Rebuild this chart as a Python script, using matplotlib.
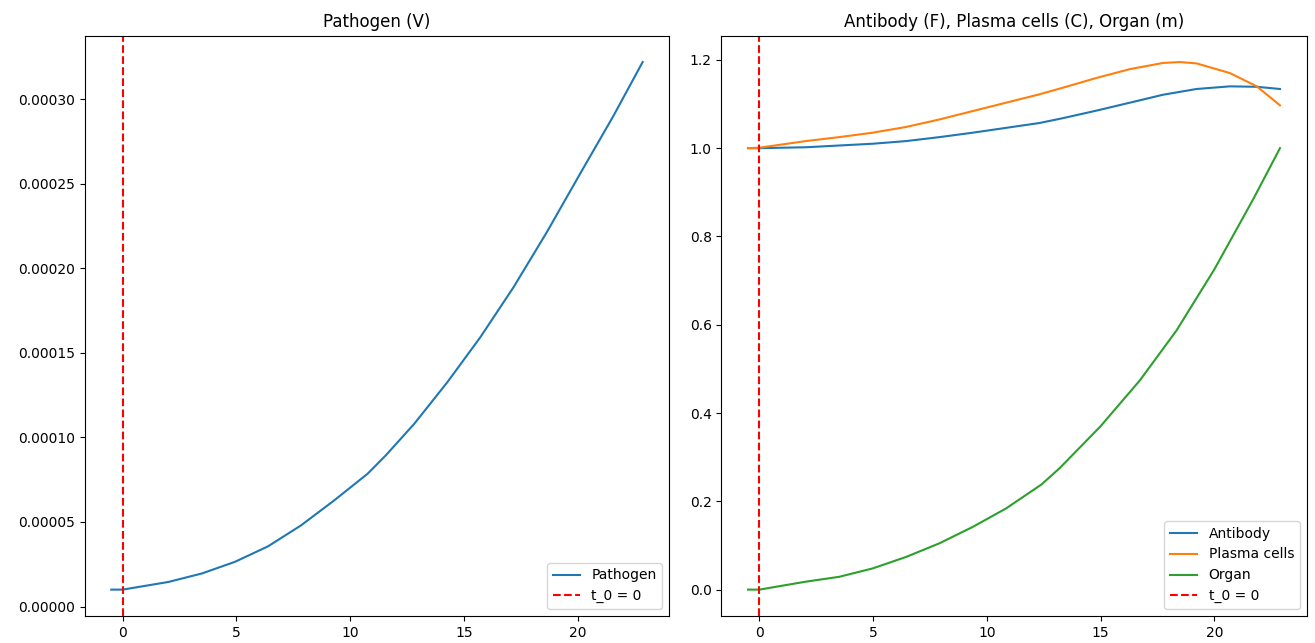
import matplotlib
matplotlib.use("Agg")
import matplotlib.pyplot as plt

# pathogen load V(t)
t_V = [-0.5, 0.0, 2.0, 3.47, 4.93, 6.39, 7.84, 9.3, 10.77, 11.57, 12.81,
       14.27, 15.72, 17.18, 18.64, 20.1, 21.56, 22.85]
V = [1.0e-5, 1.0e-5, 1.45e-5, 1.95e-5, 2.64e-5, 3.56e-5, 4.8e-5, 6.28e-5,
     7.86e-5, 8.95e-5, 10.8e-5, 13.27e-5, 15.93e-5, 18.89e-5,
     22.14e-5, 25.59e-5, 29.0e-5, 32.2e-5]

# antibody F(t)
t_F = [-0.5, 0.0, 2.04, 3.51, 4.98, 6.45, 7.92, 9.38, 10.85, 12.32, 13.35,
       14.82, 16.29, 17.75, 19.22, 20.69, 21.87, 22.89]
F = [1.0, 1.0, 1.002, 1.006, 1.010, 1.016, 1.025, 1.035, 1.046, 1.057, 1.068,
     1.085, 1.103, 1.121, 1.134, 1.140, 1.139, 1.134]

# plasma cells C(t)
t_C = [-0.5, 0.0, 2.04, 3.51, 4.98, 6.45, 7.92, 9.38, 10.85, 12.32, 13.35,
       14.82, 16.29, 17.75, 18.49, 19.22, 20.69, 21.87, 22.89]
C = [1.0, 1.001, 1.016, 1.025, 1.035, 1.048, 1.065, 1.084, 1.103, 1.122, 1.137,
     1.159, 1.179, 1.193, 1.195, 1.192, 1.170, 1.140, 1.097]

# organ damage m(t)
t_m = [-0.5, 0.0, 2.04, 3.51, 4.98, 6.45, 7.92, 9.38, 10.85, 12.4, 13.2, 15.0,
       16.73, 18.34, 20.0, 21.72, 22.89]
m = [0.0, 0.0, 0.018, 0.029, 0.048, 0.074, 0.105, 0.142, 0.184, 0.238, 0.275,
     0.37, 0.474, 0.587, 0.725, 0.885, 1.0]

fig = plt.figure(figsize=(13.15, 6.43), dpi=100)
ax1 = fig.add_axes([0.0644, 0.042, 0.4445, 0.9025])
ax2 = fig.add_axes([0.5486, 0.042, 0.445, 0.9025])

ax1.plot(t_V, V, label="Pathogen")
ax1.axvline(0, color="red", linestyle="--", label="t_0 = 0")
ax1.set_title("Pathogen (V)")
ax1.legend(loc="lower right")

ax2.plot(t_F, F, label="Antibody")
ax2.plot(t_C, C, label="Plasma cells")
ax2.plot(t_m, m, label="Organ")
ax2.axvline(0, color="red", linestyle="--", label="t_0 = 0")
ax2.set_title("Antibody (F), Plasma cells (C), Organ (m)")
ax2.legend(loc="lower right")

fig.savefig("out.png", dpi=100)
